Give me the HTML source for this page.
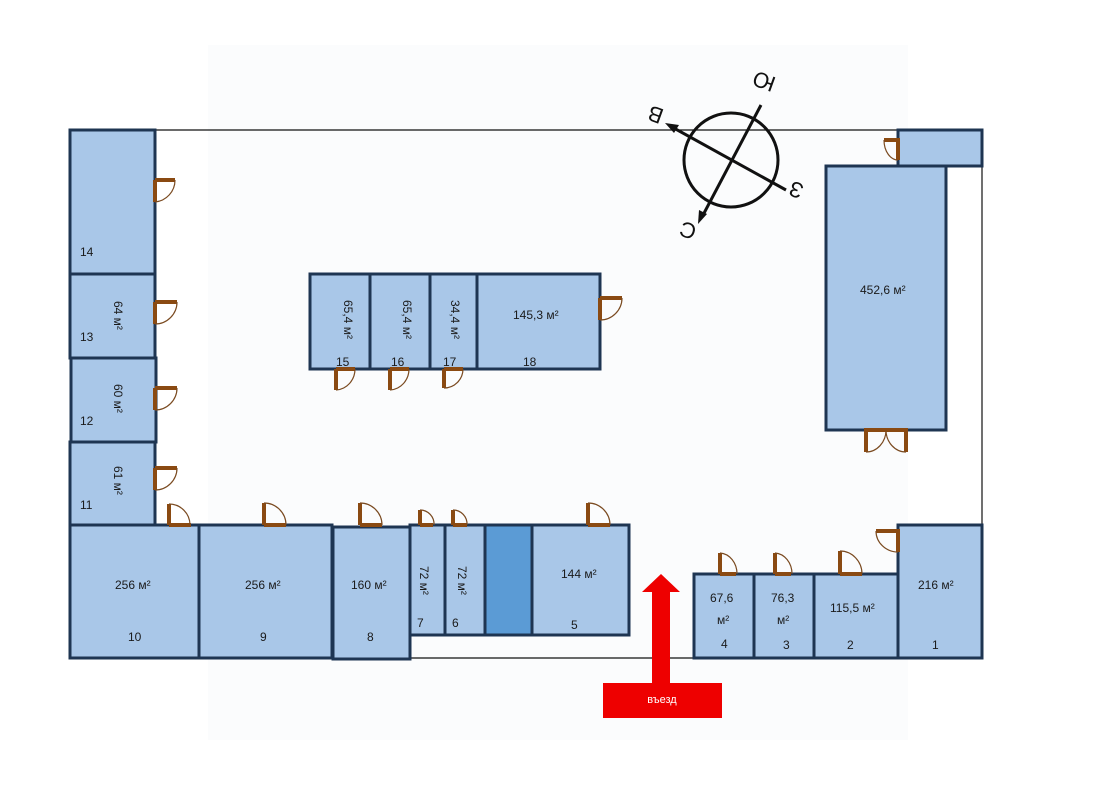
<!DOCTYPE html>
<html><head><meta charset="utf-8"><style>
html,body{margin:0;padding:0;background:#fff;}
svg{display:block;font-family:"Liberation Sans","DejaVu Sans",sans-serif;}
.r{fill:#a9c7e8;stroke:#1e3552;stroke-width:3}
.t{font-size:12px;fill:#1a1a1a}
.d{fill:none;stroke:#8a4a12;stroke-width:4}
.a{fill:none;stroke:#7a4a20;stroke-width:1.2}
</style></head><body>
<svg width="1117" height="789" viewBox="0 0 1117 789">
<rect x="208" y="45" width="700" height="695" fill="#fbfcfd"/>
<!-- outline -->
<g stroke="#111" stroke-width="1.2" fill="none">
<line x1="155" y1="130" x2="898" y2="130"/>
<line x1="982" y1="166" x2="982" y2="525"/>
<line x1="410" y1="658" x2="694" y2="658"/>
</g>
<!-- rooms -->
<rect class="r" x="70" y="130" width="85" height="144"/>
<rect class="r" x="70" y="274" width="85" height="84"/>
<rect class="r" x="71" y="358" width="85" height="84"/>
<rect class="r" x="70" y="442" width="85" height="83"/>
<rect class="r" x="70" y="525" width="129" height="133"/>
<rect class="r" x="199" y="525" width="133" height="133"/>
<rect class="r" x="333" y="527" width="77" height="132"/>
<rect class="r" x="410" y="525" width="35" height="110"/>
<rect class="r" x="445" y="525" width="40" height="110"/>
<rect x="485" y="525" width="47" height="110" fill="#5b9bd5" stroke="#1e3552" stroke-width="3"/>
<rect class="r" x="532" y="525" width="97" height="110"/>
<rect class="r" x="694" y="574" width="60" height="84"/>
<rect class="r" x="754" y="574" width="60" height="84"/>
<rect class="r" x="814" y="574" width="84" height="84"/>
<rect class="r" x="898" y="525" width="84" height="133"/>
<rect class="r" x="898" y="130" width="84" height="36"/>
<rect class="r" x="826" y="166" width="120" height="264"/>
<rect class="r" x="310" y="274" width="60" height="95"/>
<rect class="r" x="370" y="274" width="60" height="95"/>
<rect class="r" x="430" y="274" width="47" height="95"/>
<rect class="r" x="477" y="274" width="123" height="95"/>
<!-- doors: right-opening on left wall -->
<g>
<path class="d" d="M155 180 H175 M155 180 V202"/><path class="a" d="M175 180 A22 22 0 0 1 155 202"/>
<path class="d" d="M155 302 H177 M155 302 V324"/><path class="a" d="M177 302 A22 22 0 0 1 155 324"/>
<path class="d" d="M155 388 H177 M155 388 V410"/><path class="a" d="M177 388 A22 22 0 0 1 155 410"/>
<path class="d" d="M155 468 H177 M155 468 V490"/><path class="a" d="M177 468 A22 22 0 0 1 155 490"/>
<path class="d" d="M600 298 H622 M600 298 V320"/><path class="a" d="M622 298 A22 22 0 0 1 600 320"/>
<!-- top doors -->
<path class="d" d="M169 525 V504 M169 525 H191"/><path class="a" d="M169 504 A21 21 0 0 1 190 525"/>
<path class="d" d="M264 525 V503 M264 525 H286"/><path class="a" d="M264 503 A22 22 0 0 1 286 525"/>
<path class="d" d="M360 525 V503 M360 525 H382"/><path class="a" d="M360 503 A22 22 0 0 1 382 525"/>
<path class="d" d="M420 525 V510 M420 525 H433"/><path class="a" d="M420 510 A14 14 0 0 1 434 525"/>
<path class="d" d="M453 525 V510 M453 525 H467"/><path class="a" d="M453 510 A14 14 0 0 1 467 525"/>
<path class="d" d="M588 525 V503 M588 525 H610"/><path class="a" d="M588 503 A22 22 0 0 1 610 525"/>
<path class="d" d="M720 574 V553 M720 574 H736"/><path class="a" d="M720 553 A18 21 0 0 1 737 574"/>
<path class="d" d="M775 574 V553 M775 574 H791"/><path class="a" d="M775 553 A18 21 0 0 1 792 574"/>
<path class="d" d="M840 574 V551 M840 574 H862"/><path class="a" d="M840 551 A22 23 0 0 1 862 574"/>
<!-- bottom doors -->
<path class="d" d="M336 369 V390 M336 369 H355"/><path class="a" d="M336 390 A20 21 0 0 0 355 369"/>
<path class="d" d="M390 369 V390 M390 369 H409"/><path class="a" d="M390 390 A20 21 0 0 0 409 369"/>
<path class="d" d="M444 369 V388 M444 369 H463"/><path class="a" d="M444 388 A19 19 0 0 0 463 369"/>
<!-- big room double doors -->
<path class="d" d="M866 430 V452 M906 430 V452 M864 430 H908"/>
<path class="a" d="M866 452 A20 22 0 0 0 886 430 M906 452 A20 22 0 0 1 886 430"/>
<!-- left-opening -->
<path class="d" d="M898 138 V160 M898 140 H884"/><path class="a" d="M884 140 A14 20 0 0 0 898 160"/>
<path class="d" d="M898 529 V552 M898 531 H876"/><path class="a" d="M876 531 A22 21 0 0 0 898 552"/>
</g>
<!-- labels -->
<g class="t">
<text x="80" y="256">14</text><text x="80" y="341">13</text><text x="80" y="425">12</text><text x="80" y="509">11</text>
<text x="128" y="641">10</text><text x="260" y="641">9</text><text x="367" y="641">8</text>
<text x="417" y="627">7</text><text x="452" y="627">6</text><text x="571" y="629">5</text>
<text x="721" y="648">4</text><text x="783" y="649">3</text><text x="847" y="649">2</text><text x="932" y="649">1</text>
<text x="336" y="366">15</text><text x="391" y="366">16</text><text x="443" y="366">17</text><text x="523" y="366">18</text>
<text x="115" y="589">256 м²</text><text x="245" y="589">256 м²</text><text x="351" y="589">160 м²</text>
<text x="561" y="578">144 м²</text><text x="710" y="602">67,6</text><text x="717" y="624">м²</text>
<text x="771" y="602">76,3</text><text x="777" y="624">м²</text><text x="830" y="612">115,5 м²</text>
<text x="918" y="589">216 м²</text><text x="860" y="294">452,6 м²</text><text x="513" y="319">145,3 м²</text>
<text transform="translate(114,301) rotate(90)">64 м²</text>
<text transform="translate(114,384) rotate(90)">60 м²</text>
<text transform="translate(114,466) rotate(90)">61 м²</text>
<text transform="translate(420,566) rotate(90)">72 м²</text>
<text transform="translate(458,566) rotate(90)">72 м²</text>
<text transform="translate(344,300) rotate(90)">65,4 м²</text>
<text transform="translate(403,300) rotate(90)">65,4 м²</text>
<text transform="translate(451,300) rotate(90)">34,4 м²</text>
</g>
<!-- compass -->
<g stroke="#111" stroke-width="3" fill="none">
<circle cx="731" cy="160" r="47"/>
<line x1="761" y1="105" x2="702" y2="217"/>
<line x1="672" y1="127" x2="786" y2="190"/>
</g>
<polygon points="698,224 699,210 707,214" fill="#111"/>
<polygon points="665,123 679,125 674,133" fill="#111"/>
<g font-size="22" fill="#111">
<text transform="translate(777,78) rotate(200)">Ю</text>
<text transform="translate(665,110) rotate(200)">В</text>
<text transform="translate(805,185) rotate(200)">З</text>
<text transform="translate(698,226) rotate(200)">С</text>
</g>
<!-- entrance arrow -->
<polygon points="661,574 680,592 670,592 670,684 652,684 652,592 642,592" fill="#ee0000"/>
<rect x="603" y="683" width="119" height="35" fill="#ee0000"/>
<text x="662" y="703" font-size="11" fill="#fff" text-anchor="middle">въезд</text>
</svg>
</body></html>
